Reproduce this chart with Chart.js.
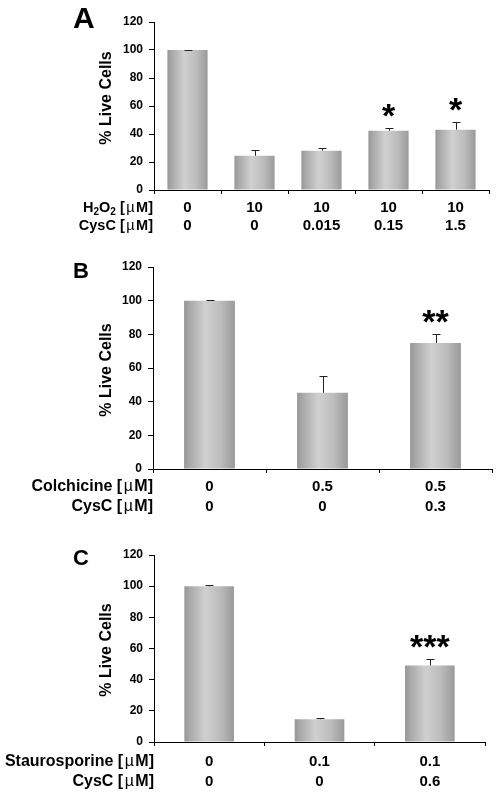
<!DOCTYPE html>
<html><head><meta charset="utf-8">
<script src="https://cdn.jsdelivr.net/npm/chart.js@4.4.1/dist/chart.umd.min.js"></script>
<style>
html,body{margin:0;padding:0;background:#fff;width:498px;height:796px;overflow:hidden}
canvas{position:absolute;left:0}
</style></head><body>
<canvas id="cA" width="498" height="240" style="top:0px"></canvas>
<canvas id="cB" width="498" height="280" style="top:240px"></canvas>
<canvas id="cC" width="498" height="276" style="top:520px"></canvas>
<script>
const FONT = '"Liberation Sans", Arial, Helvetica, sans-serif';

// ---- Panel A data ----
const aRow1Label = 'H₂O₂ [µM]';
const aRow1 = ['0', '10', '10', '10', '10'];
const aRow2Label = 'CysC [µM]';
const aRow2 = ['0', '0', '0.015', '0.15', '1.5'];
const aValues = [100, 24.5, 28.1, 42.4, 43.1];
const aErrors = [0.3, 4.3, 1.7, 2.1, 5.5];
const aStars = ['', '', '', '*', '*'];

// ---- Panel B data ----
const bRow1Label = 'Colchicine [µM]';
const bRow1 = ['0', '0.5', '0.5'];
const bRow2Label = 'CysC [µM]';
const bRow2 = ['0', '0', '0.3'];
const bValues = [100, 45.3, 74.9];
const bErrors = [0.2, 10.1, 5.1];
const bStars = ['', '', '**'];

// ---- Panel C data ----
const cRow1Label = 'Staurosporine [µM]';
const cRow1 = ['0', '0.1', '0.1'];
const cRow2Label = 'CysC [µM]';
const cRow2 = ['0', '0', '0.6'];
const cValues = [99.9, 14.6, 49.1];
const cErrors = [1.0, 0.8, 4.3];
const cStars = ['', '', '***'];

const yTicks = { min: 0, max: 120, step: 20 };
const yTitle = '% Live Cells';

function drawRowText(ctx, text, xRight, y, size) {
  // right-aligned text; '₂' drawn as subscript 2, 'µ' in regular weight
  const parts = [];
  for (const ch of text) {
    const kind = ch === '₂' ? 'sub' : (ch === 'µ' ? 'mu' : 'n');
    const c = ch === '₂' ? '2' : ch;
    if (parts.length && parts[parts.length - 1].kind === kind && kind === 'n') parts[parts.length - 1].t += c;
    else parts.push({ t: c, kind });
  }
  const subSize = Math.round(size * 0.66);
  const fontOf = (p) => p.kind === 'sub' ? 'bold ' + subSize + 'px ' + FONT
    : p.kind === 'mu' ? 'normal ' + size + 'px ' + FONT : 'bold ' + size + 'px ' + FONT;
  const padOf = (p) => p.kind === 'mu' ? 1.5 : 0;
  let total = 0;
  parts.forEach(p => {
    ctx.font = fontOf(p);
    p.w = ctx.measureText(p.t).width + 2 * padOf(p);
    total += p.w;
  });
  let x = xRight - total;
  ctx.textAlign = 'left';
  parts.forEach(p => {
    ctx.font = fontOf(p);
    ctx.fillText(p.t, x + padOf(p), p.kind === 'sub' ? y + size * 0.3 : y);
    x += p.w;
  });
}

const extrasPlugin = {
  id: 'extras',
  afterDatasetsDraw(chart, args, o) {
    const ctx = chart.ctx;
    const meta = chart.getDatasetMeta(0);
    const ys = chart.scales.y;
    ctx.save();
    ctx.strokeStyle = '#222';
    ctx.lineWidth = 1;
    meta.data.forEach((el, i) => {
      const v = o.values[i], e = o.errors[i];
      const x = Math.round(el.x) + 0.5;
      const y0 = ys.getPixelForValue(v);
      const y1 = Math.round(ys.getPixelForValue(v + e)) + 0.5;
      ctx.beginPath();
      ctx.moveTo(x, y0);
      ctx.lineTo(x, y1);
      ctx.moveTo(x - 4, y1);
      ctx.lineTo(x + 4, y1);
      ctx.stroke();
      if (o.stars[i]) {
        ctx.fillStyle = '#000';
        ctx.font = 'bold 34px ' + FONT;
        ctx.textAlign = 'center';
        ctx.textBaseline = 'alphabetic';
        ctx.fillText(o.stars[i], el.x, y1 - 2);
      }
    });
    ctx.restore();
  },
  afterDraw(chart, args, o) {
    const ctx = chart.ctx;
    const ca = chart.chartArea;
    ctx.save();
    ctx.fillStyle = '#000';
    ctx.font = 'bold ' + o.letterSize + 'px ' + FONT;
    ctx.textAlign = 'left';
    ctx.textBaseline = 'alphabetic';
    ctx.fillText(o.letter, 73, o.letterBase);
    ctx.save();
    ctx.translate(107, o.titleY);
    ctx.rotate(-Math.PI / 2);
    ctx.font = 'bold 16px ' + FONT;
    ctx.textAlign = 'center';
    ctx.textBaseline = 'middle';
    ctx.fillText(yTitle, 0, 0);
    ctx.restore();
    ctx.textBaseline = 'middle';
    const top = ca.bottom + 4 + o.xPad;
    o.rowLabels.forEach((t, i) => {
      const y = top + o.lineH / 2 + i * o.lineH;
      drawRowText(ctx, t, o.rowRight, y, o.rowSize);
    });
    ctx.restore();
  }
};

function makeChart(id, cfg) {
  const canvas = document.getElementById(id);
  const H = canvas.height;
  const labels = cfg.row1.map((v, i) => [v, cfg.row2[i]]);
  return new Chart(canvas, {
    type: 'bar',
    data: {
      labels: labels,
      datasets: [{
        data: cfg.values,
        borderWidth: 0,
        barPercentage: cfg.barPct,
        categoryPercentage: 1,
        backgroundColor: (c) => {
          const chart = c.chart, xs = chart.scales.x;
          if (!xs || !chart.chartArea) return '#bbbbbb';
          const x = xs.getPixelForValue(c.dataIndex);
          const w = (xs.width / cfg.values.length) * cfg.barPct;
          const g = chart.ctx.createLinearGradient(x - w / 2, 0, x + w / 2, 0);
          g.addColorStop(0, '#979797');
          g.addColorStop(0.12, '#aaaaaa');
          g.addColorStop(0.42, '#d0d0d0');
          g.addColorStop(0.72, '#bcbcbc');
          g.addColorStop(1, '#9a9a9a');
          return g;
        }
      }]
    },
    options: {
      responsive: false,
      animation: false,
      events: [],
      layout: { padding: { top: cfg.top, right: 498 - cfg.right, bottom: 0, left: 0 } },
      plugins: {
        legend: { display: false },
        tooltip: { enabled: false },
        extras: {
          values: cfg.values, errors: cfg.errors, stars: cfg.stars,
          letter: cfg.letter, letterSize: cfg.letterSize, letterBase: cfg.letterBase,
          titleY: cfg.titleY, rowLabels: cfg.rowLabels, rowRight: cfg.rowRight,
          rowSize: cfg.rowSize, lineH: cfg.lineH, xPad: cfg.xPad
        }
      },
      scales: {
        x: {
          afterFit: (s) => { s.height = H - cfg.bottom; },
          border: { color: '#000', width: 1 },
          grid: { display: true, drawOnChartArea: false, drawTicks: true, tickLength: 4, color: '#000', offset: true },
          ticks: {
            color: '#000', padding: cfg.xPad, maxRotation: 0, autoSkip: false,
            font: { family: FONT, size: 15, weight: 'bold', lineHeight: cfg.lineH / 15 }
          }
        },
        y: {
          min: yTicks.min, max: yTicks.max,
          afterFit: (s) => { s.width = cfg.left; },
          border: { color: '#000', width: 1 },
          grid: { display: true, drawOnChartArea: false, drawTicks: true, tickLength: 5, color: '#000' },
          ticks: {
            stepSize: yTicks.step, color: '#000', padding: 6,
            font: { family: FONT, size: 12, weight: 'bold' }
          }
        }
      }
    },
    plugins: [extrasPlugin]
  });
}

makeChart('cA', {
  row1: aRow1, row2: aRow2, values: aValues, errors: aErrors, stars: aStars,
  rowLabels: [aRow1Label, aRow2Label], rowRight: 153, rowSize: 14.5,
  left: 154, right: 489, top: 22, bottom: 190, barPct: 0.6,
  lineH: 18, xPad: 5, letter: 'A', letterSize: 30, letterBase: 28, titleY: 98
});
makeChart('cB', {
  row1: bRow1, row2: bRow2, values: bValues, errors: bErrors, stars: bStars,
  rowLabels: [bRow1Label, bRow2Label], rowRight: 153, rowSize: 16,
  left: 153, right: 492, top: 27, bottom: 229, barPct: 0.45,
  lineH: 20, xPad: 4, letter: 'B', letterSize: 22, letterBase: 38, titleY: 130
});
makeChart('cC', {
  row1: cRow1, row2: cRow2, values: cValues, errors: cErrors, stars: cStars,
  rowLabels: [cRow1Label, cRow2Label], rowRight: 154, rowSize: 16,
  left: 154, right: 485, top: 35, bottom: 222, barPct: 0.45,
  lineH: 20, xPad: 6, letter: 'C', letterSize: 22, letterBase: 45, titleY: 130
});
</script>
</body></html>
